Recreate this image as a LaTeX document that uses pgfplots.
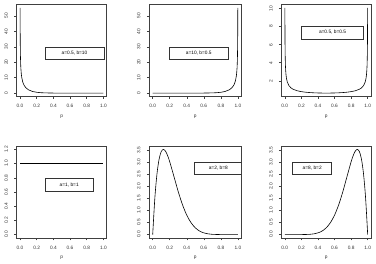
\documentclass[border=0pt]{standalone}
\usepackage{pgfplots}
\pgfplotsset{compat=1.18}
\usepackage{fontspec}
\setmainfont{Liberation Sans}
\newcommand{\fs}{\fontsize{4.8}{5.5}\selectfont}
\tikzset{leg/.style={draw=black!80, line width=0.5pt}}
\pgfplotsset{
  betapanel/.style={
    scale only axis, height=92pt,
    xmin=-0.04, xmax=1.04,
    xtick={0,0.2,0.4,0.6,0.8,1.0},
    xticklabels={0.0,0.2,0.4,0.6,0.8,1.0},
    xtick pos=left, ytick pos=left,
    tick align=outside, major tick length=2.5pt,
    axis line style={black!75, line width=0.5pt},
    tick style={black!75, line width=0.5pt},
    /pgf/number format/assume math mode=true,
    tick label style={font=\fs, black!80},
    xticklabel style={yshift=-2pt},
    yticklabel style={xshift=-2.8pt, rotate=90, anchor=south},
    xlabel={p}, xlabel style={font=\fs, black!80, at={(axis description cs:0.5,0)}, anchor=center, yshift=-20pt},
    clip=true,
  },
  curve/.style={black, line width=0.6pt, no markers},
}
\begin{document}
\begin{tikzpicture}
\useasboundingbox (0pt,0pt) rectangle (376pt,264pt);
% Panel 1
\begin{axis}[betapanel, at={(16.7pt,167.5pt)}, anchor=south west, width=90pt,
  ymin=-2.2, ymax=57.4, ytick={0,10,20,30,40,50}]
\addplot[curve] coordinates {(0.001,55.22)(0.002,38.70)(0.003,31.31)(0.005,23.82)(0.0075,19.01)(0.01,16.10)(0.015,12.56)(0.02,10.39)(0.03,7.734)(0.04,6.101)(0.05,4.966)(0.07,3.466)(0.1,2.159)(0.15,1.054)(0.2,0.5288)(0.25,0.2646)(0.3,0.1298)(0.4,0.02808)(0.5,0.004867)(0.6,0.000596)(0.7,0.00003)(0.8,0)(0.9,0)(1.0,0)};
\draw[leg] (axis cs:0.3,30) rectangle (axis cs:1.008,22);
\node[font=\fs] at (axis cs:0.654,26) {a=0.5, b=10};
\end{axis}
% Panel 2
\begin{axis}[betapanel, at={(149.3pt,167.5pt)}, anchor=south west, width=92pt,
  ymin=-2.2, ymax=57.4, ytick={0,10,20,30,40,50}]
\addplot[curve] coordinates {(0,0)(0.1,0)(0.2,0)(0.3,0.00003)(0.4,0.000596)(0.5,0.004867)(0.6,0.02808)(0.7,0.1298)(0.75,0.2646)(0.8,0.5288)(0.85,1.054)(0.9,2.159)(0.93,3.466)(0.95,4.966)(0.96,6.101)(0.97,7.734)(0.98,10.39)(0.985,12.56)(0.99,16.10)(0.9925,19.01)(0.995,23.82)(0.997,31.31)(0.998,38.70)(0.999,55.22)};
\draw[leg] (axis cs:0.194,30) rectangle (axis cs:0.885,22);
\node[font=\fs] at (axis cs:0.54,26) {a=10, b=0.5};
\end{axis}
% Panel 3
\begin{axis}[betapanel, at={(281.5pt,167.5pt)}, anchor=south west, width=89.5pt,
  ymin=0.259, ymax=10.45, ytick={2,4,6,8,10}]
\addplot[curve] coordinates {(0.001,10.07)(0.002,7.125)(0.003,5.820)(0.005,4.513)(0.0075,3.689)(0.01,3.199)(0.015,2.619)(0.02,2.274)(0.03,1.866)(0.05,1.4605)(0.075,1.2085)(0.1,1.0610)(0.15,0.8915)(0.2,0.7958)(0.25,0.7351)(0.3,0.6946)(0.35,0.6674)(0.4,0.6497)(0.45,0.6398)(0.5,0.6366)(0.55,0.6398)(0.6,0.6497)(0.65,0.6674)(0.7,0.6946)(0.75,0.7351)(0.8,0.7958)(0.85,0.8915)(0.9,1.0610)(0.925,1.2085)(0.95,1.4605)(0.97,1.866)(0.98,2.274)(0.985,2.619)(0.99,3.199)(0.9925,3.689)(0.995,4.513)(0.997,5.820)(0.998,7.125)(0.999,10.07)};
\draw[leg] (axis cs:0.204,8.05) rectangle (axis cs:0.947,6.65);
\node[font=\fs] at (axis cs:0.5755,7.35) {a=0.5, b=0.5};
\end{axis}
% Panel 4
\begin{axis}[betapanel, at={(16.7pt,26pt)}, anchor=south west, width=90pt,
  ymin=-0.048, ymax=1.248, ytick={0,0.2,0.4,0.6,0.8,1.0,1.2},
  yticklabels={0.0,0.2,0.4,0.6,0.8,1.0,1.2}]
\addplot[curve] coordinates {(0,1)(0.25,1)(0.5,1)(0.75,1)(1,1)};
\draw[leg] (axis cs:0.3,0.79) rectangle (axis cs:0.88,0.616);
\node[font=\fs] at (axis cs:0.59,0.703) {a=1, b=1};
\end{axis}
% Panel 5
\begin{axis}[betapanel, at={(149.3pt,26pt)}, anchor=south west, width=92pt,
  ymin=-0.141, ymax=3.676, ytick={0,0.5,1,1.5,2,2.5,3,3.5},
  yticklabels={0.0,0.5,1.0,1.5,2.0,2.5,3.0,3.5}]
\addplot[curve, smooth] coordinates {(0,0)(0.025,1.5077)(0.05,2.514)(0.075,3.1287)(0.1,3.4438)(0.125,3.534)(0.15,3.4622)(0.175,3.2777)(0.2,3.0199)(0.25,2.4027)(0.3,1.7788)(0.35,1.2354)(0.4,0.8062)(0.45,0.4933)(0.5,0.28125)(0.55,0.14797)(0.6,0.07078)(0.65,0.03011)(0.7,0.01102)(0.8,0.000737)(0.9,0)(1.0,0)};
\draw[leg] (axis cs:0.487,2.99) rectangle (axis cs:1.05,2.49);
\node[font=\fs] at (axis cs:0.77,2.74) {a=2, b=8};
\end{axis}
% Panel 6
\begin{axis}[betapanel, at={(281.5pt,26pt)}, anchor=south west, width=89.5pt,
  ymin=-0.141, ymax=3.676, ytick={0,0.5,1,1.5,2,2.5,3,3.5},
  yticklabels={0.0,0.5,1.0,1.5,2.0,2.5,3.0,3.5}]
\addplot[curve, smooth] coordinates {(0,0)(0.1,0)(0.2,0.000737)(0.3,0.01102)(0.35,0.03011)(0.4,0.07078)(0.45,0.14797)(0.5,0.28125)(0.55,0.4933)(0.6,0.8062)(0.65,1.2354)(0.7,1.7788)(0.75,2.4027)(0.8,3.0199)(0.825,3.2777)(0.85,3.4622)(0.875,3.534)(0.9,3.4438)(0.925,3.1287)(0.95,2.514)(0.975,1.5077)(1.0,0)};
\draw[leg] (axis cs:0.095,2.99) rectangle (axis cs:0.566,2.49);
\node[font=\fs] at (axis cs:0.3305,2.74) {a=8, b=2};
\end{axis}
\end{tikzpicture}
\end{document}
